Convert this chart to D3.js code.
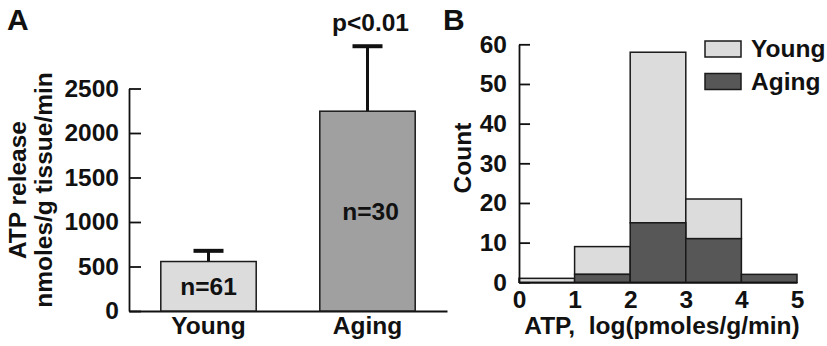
<!DOCTYPE html>
<html>
<head>
<meta charset="utf-8">
<script src="https://cdn.jsdelivr.net/npm/d3@7"></script>
<style>
  body { margin: 0; background: #fff; }
  svg { display: block; font-family: "Liberation Sans", Arial, sans-serif; font-weight: bold; }
</style>
</head>
<body>
<svg width="827" height="346"></svg>
<script>
// panel A: ATP release per group
const groups = ['Young', 'Aging'];
const meanRelease = [556, 2245];
const semRelease = [120, 730];
const nLabels = ['n=61', 'n=30'];
const releaseTicks = [0, 500, 1000, 1500, 2000, 2500];

// panel B: histogram of log ATP
const binEdges = [0, 1, 2, 3, 4, 5];
const youngCount = [1, 7, 43, 10, 0];
const agingCount = [0, 2, 15, 11, 2];
const countTicks = [0, 10, 20, 30, 40, 50, 60];

const svg = d3.select('svg');
const fontSize = 24.5;
const lightGray = '#dcdcdc';
const midGray = '#a0a0a0';
const darkGray = '#575757';
const edge = '#1a1a1a';

const styleAxis = g => {
    g.attr('font-size', fontSize)
        .attr('font-family', '"Liberation Sans", Arial, sans-serif')
        .attr('font-weight', 'bold');
    g.selectAll('.domain, .tick line').attr('stroke', '#111').attr('stroke-width', 1.8);
    g.selectAll('text').attr('fill', '#111');
};

// ---------- panel A ----------
const xA = d3.scaleBand()
    .domain(groups)
    .range([129, 447])
    .paddingInner(0.4)
    .paddingOuter(0.2);

const yA = d3.scaleLinear()
    .domain([0, 2500])
    .range([311, 88.5]);

svg.append('g')
    .attr('transform', 'translate(129,0)')
    .call(d3.axisLeft(yA).tickValues(releaseTicks).tickFormat(d3.format('d'))
        .tickSize(-12).tickSizeOuter(0).tickPadding(10))
    .call(styleAxis);

svg.append('g')
    .attr('transform', 'translate(0,311)')
    .call(d3.axisBottom(xA).tickSize(0).tickSizeOuter(0).tickPadding(6))
    .call(styleAxis);

const barsA = groups.map((g, i) => ({ g, mean: meanRelease[i], sem: semRelease[i], n: nLabels[i] }));

// error bars
barsA.forEach(d => {
    const cx = xA(d.g) + xA.bandwidth() / 2;
    svg.append('line')
        .attr('x1', cx).attr('x2', cx)
        .attr('y1', yA(d.mean)).attr('y2', yA(d.mean + d.sem))
        .attr('stroke', '#111').attr('stroke-width', 3);
    svg.append('line')
        .attr('x1', cx - 15).attr('x2', cx + 15)
        .attr('y1', yA(d.mean + d.sem)).attr('y2', yA(d.mean + d.sem))
        .attr('stroke', '#111').attr('stroke-width', 4);
});

svg.selectAll('rect.barA').data(barsA)
    .enter().append('rect')
    .attr('class', 'barA')
    .attr('x', d => xA(d.g))
    .attr('y', d => yA(d.mean))
    .attr('width', xA.bandwidth())
    .attr('height', d => yA(0) - yA(d.mean))
    .attr('fill', (d, i) => i === 0 ? lightGray : midGray)
    .attr('stroke', edge)
    .attr('stroke-width', 1.5);

svg.selectAll('text.nlab').data(barsA)
    .enter().append('text')
    .attr('class', 'nlab')
    .attr('x', (d, i) => xA(d.g) + xA.bandwidth() / 2 + (i === 1 ? 3 : 0))
    .attr('y', d => yA(d.mean / 2))
    .attr('dy', '0.35em')
    .attr('text-anchor', 'middle')
    .attr('font-size', fontSize)
    .attr('fill', '#111')
    .text(d => d.n);

svg.append('text')
    .attr('x', xA('Aging') + xA.bandwidth() / 2 + 3)
    .attr('y', yA(meanRelease[1] + semRelease[1]) - 15)
    .attr('text-anchor', 'middle')
    .attr('font-size', fontSize)
    .attr('fill', '#111')
    .text('p<0.01');

const titleA = svg.append('text')
    .attr('transform', 'translate(0,190) rotate(-90)')
    .attr('text-anchor', 'middle')
    .attr('font-size', fontSize)
    .attr('fill', '#111');
titleA.append('tspan').attr('x', 0).attr('y', 26).text('ATP release');
titleA.append('tspan').attr('x', 0).attr('y', 51.5).text('nmoles/g tissue/min');

svg.append('text')
    .attr('x', 7).attr('y', 30)
    .attr('font-size', 30)
    .attr('fill', '#111')
    .text('A');

// ---------- panel B ----------
const xB = d3.scaleLinear()
    .domain([0, 5])
    .range([519, 797]);

const yB = d3.scaleLinear()
    .domain([0, 60])
    .range([282.3, 44.3]);

const bins = binEdges.slice(0, -1).map((x0, i) => ({
    x0, x1: binEdges[i + 1], aging: agingCount[i], young: youngCount[i]
}));

// stacked: aging at the bottom, young on top
svg.selectAll('rect.young').data(bins.filter(d => d.young > 0))
    .enter().append('rect')
    .attr('class', 'young')
    .attr('x', d => xB(d.x0))
    .attr('y', d => yB(d.aging + d.young))
    .attr('width', d => xB(d.x1) - xB(d.x0))
    .attr('height', d => yB(d.aging) - yB(d.aging + d.young))
    .attr('fill', lightGray)
    .attr('stroke', edge)
    .attr('stroke-width', 1.5);

svg.selectAll('rect.aging').data(bins.filter(d => d.aging > 0))
    .enter().append('rect')
    .attr('class', 'aging')
    .attr('x', d => xB(d.x0))
    .attr('y', d => yB(d.aging))
    .attr('width', d => xB(d.x1) - xB(d.x0))
    .attr('height', d => yB(0) - yB(d.aging))
    .attr('fill', darkGray)
    .attr('stroke', edge)
    .attr('stroke-width', 1.5);

svg.append('g')
    .attr('transform', 'translate(519,0)')
    .call(d3.axisLeft(yB).tickValues(countTicks).tickSize(-11).tickSizeOuter(0).tickPadding(12))
    .call(styleAxis);

svg.append('g')
    .attr('transform', 'translate(0,282.3)')
    .call(d3.axisBottom(xB).tickValues(binEdges).tickFormat(d3.format('d')).tickSize(0).tickSizeOuter(0).tickPadding(8))
    .call(styleAxis);

svg.append('text')
    .attr('transform', 'translate(471,158) rotate(-90)')
    .attr('text-anchor', 'middle')
    .attr('font-size', fontSize)
    .attr('fill', '#111')
    .text('Count');

svg.append('text')
    .attr('x', 662)
    .attr('y', 334)
    .attr('text-anchor', 'middle')
    .attr('font-size', fontSize)
    .attr('fill', '#111')
    .attr('xml:space', 'preserve')
    .style('white-space', 'pre')
    .text('ATP,  log(pmoles/g/min)');

svg.append('text')
    .attr('x', 443).attr('y', 29.5)
    .attr('font-size', 30)
    .attr('fill', '#111')
    .text('B');

// legend
const legendItems = [
    { label: 'Young', fill: lightGray },
    { label: 'Aging', fill: darkGray }
];
const legend = svg.append('g').attr('transform', 'translate(705,41)');
legendItems.forEach((d, i) => {
    legend.append('rect')
        .attr('x', 0).attr('y', i * 32.5)
        .attr('width', 36).attr('height', 16)
        .attr('fill', d.fill)
        .attr('stroke', edge)
        .attr('stroke-width', 1.5);
    legend.append('text')
        .attr('x', 46).attr('y', i * 32.5 + 16)
        .attr('font-size', fontSize)
        .attr('fill', '#111')
        .text(d.label);
});
</script>
</body>
</html>
